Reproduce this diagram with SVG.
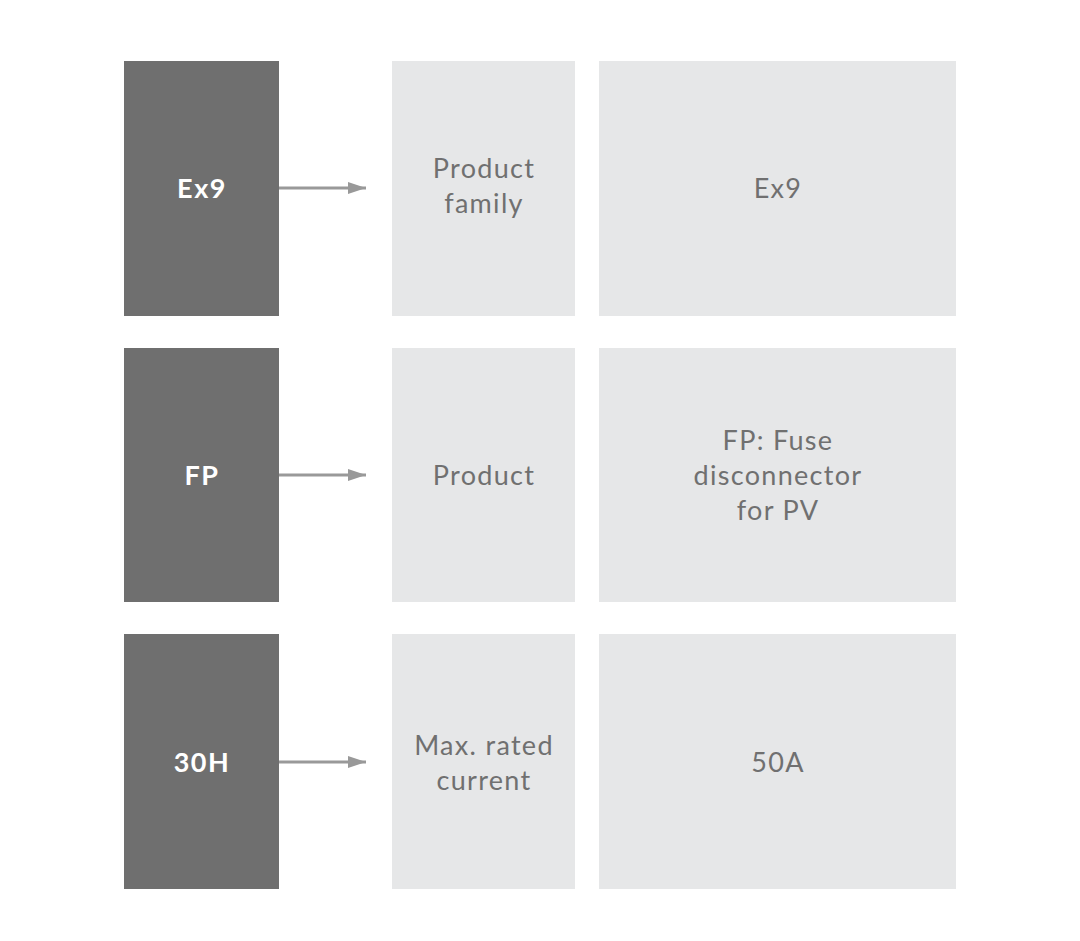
<svg xmlns="http://www.w3.org/2000/svg" width="1080" height="941" viewBox="0 0 1080 941">
<style>
.dark{fill:#6f6f6f}
.light{fill:#e6e7e8}
.kt{font-family:Lato,"Liberation Sans",sans-serif;font-weight:bold;font-size:27px;fill:#ffffff;text-anchor:middle;letter-spacing:1.5px}
.lt{font-family:Lato,"Liberation Sans",sans-serif;font-size:27px;fill:#707070;text-anchor:middle;letter-spacing:1.3px}
.conn{stroke:#999999;stroke-width:3;fill:none}
</style>
<defs>
<marker id="ah" markerWidth="6" markerHeight="4" refX="6" refY="2" orient="auto" markerUnits="strokeWidth">
<path d="M0,0 L6,2 L0,4 Z" fill="#999999"/>
</marker>
</defs>
<rect width="1080" height="941" fill="#ffffff"/>
<g id="connectors">
<line class="conn" x1="279" y1="188" x2="366" y2="188" marker-end="url(#ah)"/>
<line class="conn" x1="279" y1="475" x2="366" y2="475" marker-end="url(#ah)"/>
<line class="conn" x1="279" y1="762" x2="366" y2="762" marker-end="url(#ah)"/>
</g>
<g id="code-ex9"><rect class="dark" x="124" y="61" width="155" height="255"/><text class="kt" x="202" y="198">Ex9</text></g>
<g id="label-family"><rect class="light" x="392" y="61" width="183" height="255"/><text class="lt" x="484" y="178">Product</text><text class="lt" x="484" y="213">family</text></g>
<g id="value-ex9"><rect class="light" x="599" y="61" width="357" height="255"/><text class="lt" x="778" y="198">Ex9</text></g>
<g id="code-fp"><rect class="dark" x="124" y="348" width="155" height="254"/><text class="kt" x="202" y="485">FP</text></g>
<g id="label-product"><rect class="light" x="392" y="348" width="183" height="254"/><text class="lt" x="484" y="485">Product</text></g>
<g id="value-fp"><rect class="light" x="599" y="348" width="357" height="254"/><text class="lt" x="778" y="450">FP: Fuse</text><text class="lt" x="778" y="485">disconnector</text><text class="lt" x="778" y="520">for PV</text></g>
<g id="code-30h"><rect class="dark" x="124" y="634" width="155" height="255"/><text class="kt" x="202" y="772">30H</text></g>
<g id="label-current"><rect class="light" x="392" y="634" width="183" height="255"/><text class="lt" x="484" y="755">Max. rated</text><text class="lt" x="484" y="790">current</text></g>
<g id="value-50a"><rect class="light" x="599" y="634" width="357" height="255"/><text class="lt" x="778" y="772">50A</text></g>
</svg>
